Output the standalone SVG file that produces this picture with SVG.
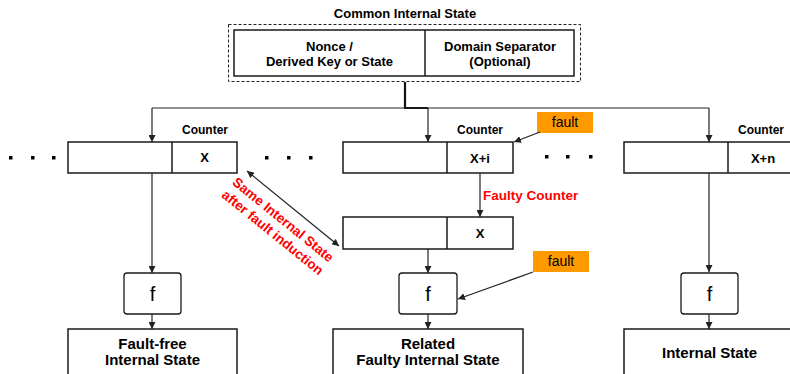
<svg xmlns="http://www.w3.org/2000/svg" width="790" height="374" viewBox="0 0 790 374">
  <style>
    text { font-family: "Liberation Sans", Arial, sans-serif; }
    .b { font-weight: bold; font-size: 13px; fill: #000; text-anchor: middle; }
    .cnt { font-weight: bold; font-size: 12px; fill: #000; text-anchor: middle; }
    .big { font-weight: bold; font-size: 15px; fill: #000; text-anchor: middle; }
    .red { font-weight: bold; font-size: 13.5px; fill: #ff0000; }
    .fault { font-size: 14px; fill: #000; text-anchor: middle; }
    .fn { font-size: 20px; fill: #000; text-anchor: middle; }
    .box { fill: #fff; stroke: #1a1a1a; stroke-width: 1.5; }
    .fbox { fill: #fff; stroke: #1a1a1a; stroke-width: 1.3; }
    .orange { fill: #ff9900; }
    .ln { fill: none; stroke: #222; stroke-width: 1.2; }
    .dot { fill: #000; }
  </style>
  <defs>
    <marker id="arr" viewBox="0 0 10 10" refX="10" refY="5" markerWidth="7" markerHeight="7" orient="auto-start-reverse" markerUnits="userSpaceOnUse">
      <path d="M0,0 L10,5 L0,10 z" fill="#222"/>
    </marker>
  </defs>

  <!-- shared state block -->
  <g id="common-state">
    <text class="b" x="405" y="18">Common Internal State</text>
    <rect x="228.5" y="24.5" width="352" height="57" fill="none" stroke="#222" stroke-width="1" stroke-dasharray="3,2"/>
    <rect class="box" x="234" y="30" width="340" height="46"/>
    <line x1="425" y1="30" x2="425" y2="76" stroke="#1a1a1a" stroke-width="1.5"/>
    <text class="b" x="329.5" y="51">Nonce /</text>
    <text class="b" x="329.5" y="66">Derived Key or State</text>
    <text class="b" x="500" y="51">Domain Separator</text>
    <text class="b" x="500" y="66">(Optional)</text>
  </g>

  <!-- counter-mode state blocks -->
  <g id="state-x">
    <text class="cnt" x="205" y="134">Counter</text>
    <rect class="box" x="68" y="142" width="169" height="31"/>
    <line x1="172" y1="142" x2="172" y2="173" stroke="#1a1a1a" stroke-width="1.5"/>
    <text class="b" x="204.5" y="162">X</text>
  </g>
  <g id="state-xi">
    <text class="cnt" x="480" y="134">Counter</text>
    <rect class="box" x="343" y="142" width="170" height="31"/>
    <line x1="447" y1="142" x2="447" y2="173" stroke="#1a1a1a" stroke-width="1.5"/>
    <text class="b" x="480" y="163">X+i</text>
  </g>
  <g id="state-xn">
    <text class="cnt" x="761" y="134">Counter</text>
    <rect class="box" x="624" y="142" width="175" height="31"/>
    <line x1="728" y1="142" x2="728" y2="173" stroke="#1a1a1a" stroke-width="1.5"/>
    <text class="b" x="763" y="163">X+n</text>
  </g>
  <g id="state-faulty">
    <rect class="box" x="343" y="217" width="170" height="32"/>
    <line x1="447" y1="217" x2="447" y2="249" stroke="#1a1a1a" stroke-width="1.5"/>
    <text class="b" x="480" y="238">X</text>
  </g>

  <!-- ellipsis dots -->
  <g id="dots">
    <rect class="dot" x="9" y="156" width="3.5" height="3.5"/>
    <rect class="dot" x="31" y="156" width="3.5" height="3.5"/>
    <rect class="dot" x="52" y="156" width="3.5" height="3.5"/>
    <rect class="dot" x="265" y="156" width="3.5" height="3.5"/>
    <rect class="dot" x="287" y="156" width="3.5" height="3.5"/>
    <rect class="dot" x="309" y="156" width="3.5" height="3.5"/>
    <rect class="dot" x="545" y="155" width="3.5" height="3.5"/>
    <rect class="dot" x="566" y="155" width="3.5" height="3.5"/>
    <rect class="dot" x="589" y="155" width="3.5" height="3.5"/>
  </g>

  <!-- fault injections -->
  <g id="fault-1">
    <rect class="orange" x="537" y="112" width="56" height="21"/>
    <text class="fault" x="565" y="127">fault</text>
  </g>
  <g id="fault-2">
    <rect class="orange" x="533" y="251" width="56" height="21"/>
    <text class="fault" x="561" y="266">fault</text>
  </g>

  <!-- permutation boxes -->
  <g id="f-left">
    <rect class="fbox" x="124" y="273" width="57" height="41" rx="3"/>
    <text class="fn" x="152.5" y="301">f</text>
  </g>
  <g id="f-mid">
    <rect class="fbox" x="399" y="273" width="58" height="41" rx="3"/>
    <text class="fn" x="428" y="301">f</text>
  </g>
  <g id="f-right">
    <rect class="fbox" x="681" y="273" width="57" height="41" rx="3"/>
    <text class="fn" x="709.5" y="301">f</text>
  </g>

  <!-- resulting internal states -->
  <g id="out-left">
    <rect class="box" x="68" y="329" width="169" height="60"/>
    <text class="big" x="152.5" y="349">Fault-free</text>
    <text class="big" x="152.5" y="365">Internal State</text>
  </g>
  <g id="out-mid">
    <rect class="box" x="333" y="329" width="190" height="60"/>
    <text class="big" x="428" y="349">Related</text>
    <text class="big" x="428" y="365">Faulty Internal State</text>
  </g>
  <g id="out-right">
    <rect class="box" x="624" y="329" width="180" height="60"/>
    <text class="big" x="709.5" y="358">Internal State</text>
  </g>

  <!-- connectors -->
  <g id="connectors">
    <polyline points="405,82 405,108 428,108" fill="none" stroke="#111" stroke-width="2.2"/>
    <line class="ln" x1="152" y1="108" x2="709" y2="108"/>
    <line class="ln" x1="152" y1="108" x2="152" y2="142" marker-end="url(#arr)"/>
    <line class="ln" x1="428" y1="108" x2="428" y2="142" marker-end="url(#arr)"/>
    <line class="ln" x1="709" y1="108" x2="709" y2="142" marker-end="url(#arr)"/>

    <line class="ln" x1="152" y1="173" x2="152" y2="273" marker-end="url(#arr)"/>
    <line class="ln" x1="709" y1="173" x2="709" y2="272" marker-end="url(#arr)"/>
    <line class="ln" x1="480" y1="173" x2="480" y2="217" marker-end="url(#arr)"/>
    <line class="ln" x1="428" y1="249" x2="428" y2="273" marker-end="url(#arr)"/>

    <line class="ln" x1="152" y1="314" x2="152" y2="329" marker-end="url(#arr)"/>
    <line class="ln" x1="428" y1="314" x2="428" y2="329" marker-end="url(#arr)"/>
    <line class="ln" x1="709" y1="314" x2="709" y2="329" marker-end="url(#arr)"/>

    <line class="ln" x1="540" y1="132" x2="514" y2="142" marker-end="url(#arr)"/>
    <line class="ln" x1="533" y1="272" x2="458" y2="299" marker-end="url(#arr)"/>

    <line class="ln" x1="247" y1="171" x2="339" y2="246" marker-start="url(#arr)" marker-end="url(#arr)"/>
  </g>

  <!-- labels on connectors -->
  <g id="labels">
    <text class="red" x="483" y="200">Faulty Counter</text>
    <g transform="translate(278,226) rotate(39)">
      <text class="red" x="0" y="-3.5" text-anchor="middle">Same Internal State</text>
      <text class="red" x="0" y="13" text-anchor="middle">after fault induction</text>
    </g>
  </g>
</svg>
